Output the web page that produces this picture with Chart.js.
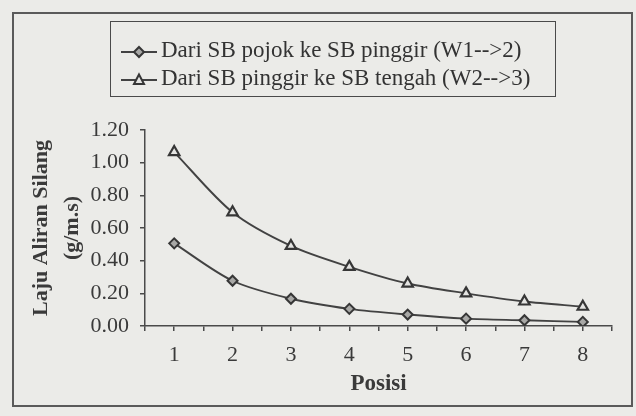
<!DOCTYPE html>
<html>
<head>
<meta charset="utf-8">
<script src="https://cdn.jsdelivr.net/npm/chart.js@4.4.1/dist/chart.umd.min.js"></script>
<style>
    html, body { margin: 0; padding: 0; background: #ebebe8; }
    #wrap { position: relative; width: 636px; height: 416px; overflow: hidden; }
    #frame { position: absolute; left: 12px; top: 12px; width: 617px; height: 391px; border: 2px solid #5a5a5a; }
    #legend { position: absolute; left: 110px; top: 21px; width: 444px; height: 74px; border: 1.5px solid #4a4a4a;
        font-family: "Liberation Serif", "Times New Roman", serif; font-size: 23px; color: #333; }
    .item { position: absolute; left: 10px; height: 28px; line-height: 28px; white-space: nowrap; }
    .item svg { vertical-align: middle; margin-right: 4px; }
</style>
</head>
<body>
<div id="wrap">
    <canvas id="chart" width="636" height="416"></canvas>
    <div id="frame"></div>
    <div id="legend"></div>
</div>
<script>
'use strict'

const positions = [1, 2, 3, 4, 5, 6, 7, 8];
const cornerToEdge = [0.506, 0.277, 0.167, 0.105, 0.070, 0.045, 0.035, 0.025]; // W1-->2
const edgeToCenter = [1.065, 0.696, 0.490, 0.362, 0.260, 0.200, 0.150, 0.118]; // W2-->3
const seriesNames = ['Dari SB pojok ke SB pinggir (W1-->2)', 'Dari SB pinggir ke SB tengah (W2-->3)'];
const yTicks = [0, 0.2, 0.4, 0.6, 0.8, 1.0, 1.2];

const ink = '#3a3a3a';
const serif = '"Liberation Serif", "Times New Roman", serif';

const ctx = document.getElementById('chart').getContext('2d');

const chart = new Chart(ctx, {
    type: 'line',
    data: {
        datasets: [{
            label: seriesNames[0],
            data: positions.map((p, i) => ({ x: p, y: cornerToEdge[i] })),
            borderColor: '#424242',
            borderWidth: 1.9,
            pointStyle: 'rectRot',
            pointRadius: 5,
            pointBorderWidth: 2,
            pointBackgroundColor: '#a8a8a6',
            pointBorderColor: '#363636',
            tension: 0.3,
            fill: false
        },
        {
            label: seriesNames[1],
            data: positions.map((p, i) => ({ x: p, y: edgeToCenter[i] })),
            borderColor: '#424242',
            borderWidth: 1.9,
            pointStyle: 'triangle',
            pointRadius: 6,
            pointBorderWidth: 2.2,
            pointBackgroundColor: '#e4e4e2',
            pointBorderColor: '#363636',
            tension: 0.3,
            fill: false
        }]
    },
    options: {
        responsive: false,
        animation: false,
        devicePixelRatio: 1,
        layout: { padding: { left: 0, top: 130, right: 24, bottom: 0 } },
        plugins: {
            legend: { display: false },
            tooltip: { enabled: false }
        },
        scales: {
            x: {
                type: 'linear',
                min: 0.5,
                max: 8.5,
                afterFit: s => { s.height = 90; },
                afterBuildTicks: s => {
                    const t = [];
                    for (let v = 0.5; v <= 8.5; v += 0.5) t.push({ value: v });
                    s.ticks = t;
                },
                ticks: {
                    autoSkip: false,
                    maxRotation: 0,
                    padding: 11,
                    color: ink,
                    font: { family: serif, size: 22 },
                    callback: v => Number.isInteger(v) ? String(v) : ''
                },
                grid: { drawOnChartArea: false, tickLength: 5, color: '#4a4a4a', lineWidth: 1.5 },
                border: { color: '#4a4a4a', width: 1.5 },
                title: {
                    display: true,
                    text: 'Posisi',
                    color: ink,
                    font: { family: serif, size: 23, weight: 'bold' },
                    padding: { top: 0, bottom: 18 }
                }
            },
            y: {
                min: 0,
                max: 1.2,
                afterFit: s => { s.width = 145; },
                afterBuildTicks: s => { s.ticks = yTicks.map(v => ({ value: v })); },
                ticks: {
                    padding: 11,
                    color: ink,
                    font: { family: serif, size: 22 },
                    callback: v => v.toFixed(2)
                },
                grid: { drawOnChartArea: false, tickLength: 5, color: '#4a4a4a', lineWidth: 1.5 },
                border: { color: '#4a4a4a', width: 1.5 },
                title: {
                    display: true,
                    text: ['Laju Aliran Silang', '(g/m.s)'],
                    color: ink,
                    font: { family: serif, size: 22, weight: 'bold', lineHeight: 1.4 },
                    padding: { top: 26, bottom: 0 }
                }
            }
        }
    }
});

// legend built by hand: line with marker, then the name
const legendBox = document.getElementById('legend');
const markers = [
    '<polygon points="18,9 23,14 18,19 13,14" fill="#a8a8a6" stroke="#363636" stroke-width="2"/>',
    '<polygon points="18,8.5 23,18 13,18" fill="#e4e4e2" stroke="#363636" stroke-width="2"/>'
];
seriesNames.forEach((name, i) => {
    const row = document.createElement('div');
    row.className = 'item';
    row.style.top = (14 + i * 28) + 'px';
    row.innerHTML = '<svg width="36" height="28"><line x1="0" y1="14" x2="36" y2="14" stroke="#424242" stroke-width="1.9"/>'
        + markers[i] + '</svg><span>' + name + '</span>';
    legendBox.appendChild(row);
});
</script>
</body>
</html>
